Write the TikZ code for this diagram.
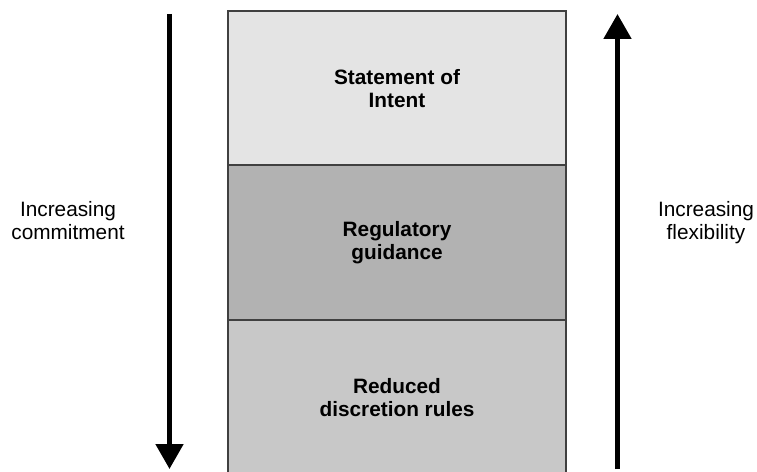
\documentclass[tikz,border=0pt]{standalone}
\usepackage{fontspec}
\setmainfont{Liberation Sans}
\usetikzlibrary{arrows.meta}
\definecolor{tierA}{HTML}{E4E4E4}
\definecolor{tierB}{HTML}{B2B2B2}
\definecolor{tierC}{HTML}{C8C8C8}
\definecolor{edgegray}{HTML}{404040}
\begin{document}
\begin{tikzpicture}[x=1bp,y=-1bp,
  tier/.style={draw=edgegray, line width=2bp, minimum width=338bp, minimum height=155bp,
    inner sep=0pt, align=center, font=\fontsize{20.8bp}{23.5bp}\selectfont\bfseries},
  sidelabel/.style={align=center, inner sep=0pt, anchor=north, font=\fontsize{20.8bp}{23.5bp}\selectfont},
  trend/.style={line width=5bp, -{Triangle[width=27bp,length=25bp]}}]
  \useasboundingbox (0,0) rectangle (757,472);
  \clip (0,0) rectangle (757,472);
  % three stacked tiers
  \node[tier, fill=tierA] (intent) at (397,88.5) {Statement of\\Intent};
  \node[tier, fill=tierB] (guide) at (397,242.5) {Regulatory\\guidance};
  \node[tier, fill=tierC] (rules) at (397,397.5) {Reduced\\discretion rules};
  % side arrows
  \coordinate (ltop) at (169.5,14);
  \coordinate (lbot) at (169.5,469);
  \coordinate (rtop) at (617.5,14);
  \coordinate (rbot) at (617.5,469);
  \draw[trend] (ltop) -- (lbot);
  \draw[trend] (rbot) -- (rtop);
  % side labels
  \node[sidelabel] (commit) at (68,201) {Increasing\\commitment};
  \node[sidelabel] (flex) at (706,201) {Increasing\\flexibility};
\end{tikzpicture}
\end{document}
